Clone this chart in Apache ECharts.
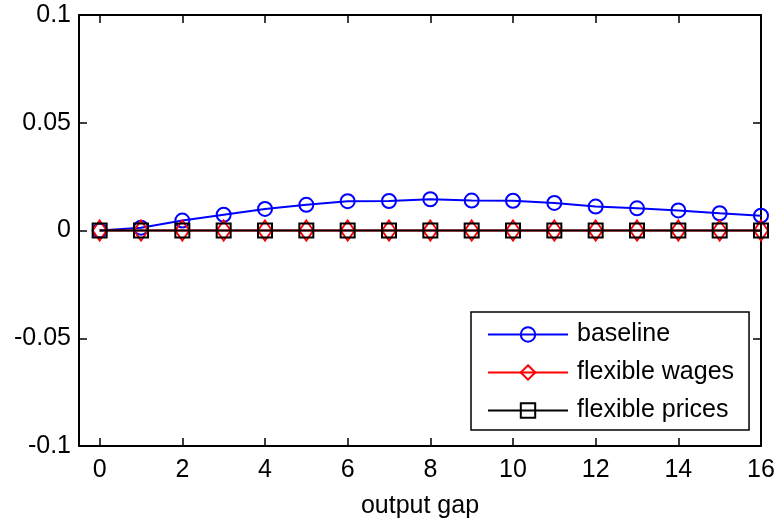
<!DOCTYPE html>
<html style="height: 100%">
<head>
    <meta charset="utf-8">
    <script src="https://cdn.jsdelivr.net/npm/echarts@6/dist/echarts.min.js"></script>
</head>
<body style="height: 100%; width: 100%; margin: 0; background-color: #fff;">

    <div id="container" style="width: 779px; height: 524px;"></div>

    <script type="text/javascript">
        // periods on the x axis
        var periods = [0, 1, 2, 3, 4, 5, 6, 7, 8, 9, 10, 11, 12, 13, 14, 15, 16];
        var baseline = [0, 0.0013, 0.0046, 0.0073, 0.0100, 0.0119, 0.0136, 0.0137, 0.0145, 0.0139, 0.0138, 0.0128, 0.0111, 0.0103, 0.0093, 0.0080, 0.0069];
        var flexWages = [0, 0, 0, 0, 0, 0, 0, 0, 0, 0, 0, 0, 0, 0, 0, 0, 0];
        var flexPrices = [0, 0, 0, 0, 0, 0, 0, 0, 0, 0, 0, 0, 0, 0, 0, 0, 0];
        var seriesNames = ['baseline', 'flexible wages', 'flexible prices'];

        function pairs(vals) {
            var out = [];
            for (var i = 0; i < periods.length; i++) {
                out.push([periods[i], vals[i]]);
            }
            return out;
        }

        var font = 'Liberation Sans, Arial, sans-serif';
        var dom = document.getElementById("container");
        var myChart = echarts.init(dom);

        var xBase = {
            type: 'value',
            min: -0.5,
            max: 16,
            splitNumber: 8,
            splitLine: { show: false },
            axisLine: { onZero: false, lineStyle: { color: '#000', width: 2 } },
            axisTick: { inside: true, length: 8, lineStyle: { color: '#000', width: 1.5 } }
        };
        var yBase = {
            type: 'value',
            min: -0.1,
            max: 0.1,
            interval: 0.05,
            splitLine: { show: false },
            axisLine: { show: true, onZero: false, lineStyle: { color: '#000', width: 2 } },
            axisTick: { inside: true, length: 8, lineStyle: { color: '#000', width: 1.5 } }
        };

        var option = {
            animation: false,
            grid: { left: 79, right: 18, top: 15, bottom: 77 },
            xAxis: [
                echarts.util.merge({
                    position: 'bottom',
                    name: 'output gap',
                    nameLocation: 'middle',
                    nameGap: 48,
                    nameTextStyle: { fontSize: 25, color: '#000', fontFamily: font },
                    axisLabel: {
                        fontSize: 25, color: '#000', fontFamily: font, margin: 12,
                        showMinLabel: false,
                        formatter: function (v) { return v % 2 === 0 ? String(v) : ''; }
                    }
                }, xBase, true),
                echarts.util.merge({ position: 'top', axisLabel: { show: false } }, xBase, true)
            ],
            yAxis: [
                echarts.util.merge({
                    position: 'left',
                    axisLabel: { fontSize: 25, color: '#000', fontFamily: font, margin: 8, padding: [3, 0, 0, 0] }
                }, yBase, true),
                echarts.util.merge({ position: 'right', axisLabel: { show: false } }, yBase, true)
            ],
            legend: {
                data: seriesNames,
                orient: 'vertical',
                left: 471,
                top: 312,
                padding: [10, 15, 7, 16],
                itemWidth: 80,
                itemHeight: 18,
                itemGap: 13,
                borderColor: '#000',
                borderWidth: 1.5,
                backgroundColor: '#fff',
                textStyle: { fontSize: 25, color: '#000', fontFamily: font, padding: [0, 0, 0, 4] }
            },
            series: [
                {
                    name: 'baseline',
                    type: 'line',
                    data: pairs(baseline),
                    symbol: 'circle',
                    symbolSize: 14,
                    lineStyle: { color: '#0000ff', width: 2 },
                    itemStyle: { color: 'rgba(0,0,0,0)', borderColor: '#0000ff', borderWidth: 2 },
                    z: 3
                },
                {
                    name: 'flexible wages',
                    type: 'line',
                    data: pairs(flexWages),
                    symbol: 'diamond',
                    symbolSize: [14, 20],
                    lineStyle: { color: '#ff0000', width: 2 },
                    itemStyle: { color: 'rgba(0,0,0,0)', borderColor: '#ff0000', borderWidth: 2 },
                    z: 4
                },
                {
                    name: 'flexible prices',
                    type: 'line',
                    data: pairs(flexPrices),
                    symbol: 'rect',
                    symbolSize: 14,
                    lineStyle: { color: '#000', width: 2 },
                    itemStyle: { color: 'rgba(0,0,0,0)', borderColor: '#000', borderWidth: 2 },
                    z: 5
                }
            ]
        };

        myChart.setOption(option, true);
    </script>
</body>
</html>
